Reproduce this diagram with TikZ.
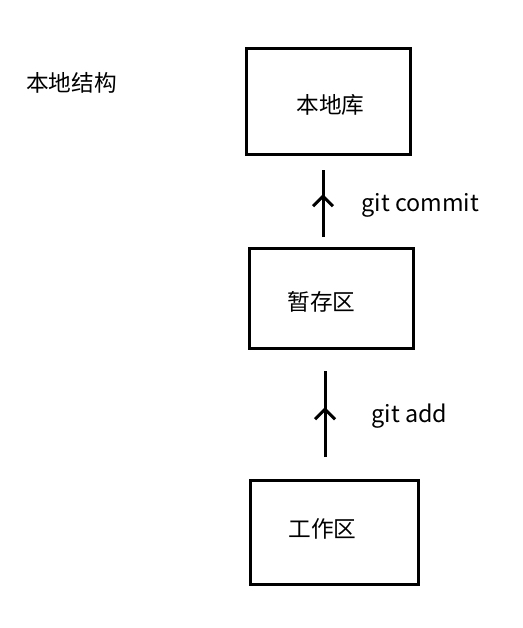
\documentclass[tikz,border=0pt]{standalone}
\usepackage{fontspec}
\newfontfamily\cjk{Noto Sans CJK SC}
\usetikzlibrary{arrows.meta,decorations.markings}

\tikzset{every picture/.style={line width=0.75pt}}
\tikzset{
  stagebox/.style={draw, line width=2.25pt, inner sep=0pt, minimum width=121.5pt, minimum height=79.5pt},
  cjktext/.style={inner sep=0.75pt, font=\cjk\fontsize{17}{20}\selectfont},
  cmdtext/.style={inner sep=0.75pt, anchor=west, font=\cjk\fontsize{17.5}{20}\selectfont},
  uparrow/.style={line width=2.25pt, postaction={decorate}, decoration={markings,
    mark=at position #1 with {\arrow[line width=2.25pt]{Straight Barb[length=7.5pt,width=15pt]}}}}
}

\begin{document}
\begin{tikzpicture}[x=0.75pt,y=0.75pt,yscale=-1,xscale=1]
\path [use as bounding box] (0,0) rectangle (523,628);

%Shape: Rectangle [id:repo]
\node [stagebox, minimum width=123pt, minimum height=79.5pt] (repo) at (328.5,101.5) {};
%Shape: Rectangle [id:stage]
\node [stagebox, minimum width=123pt, minimum height=75pt] (stage) at (331,298.5) {};
%Shape: Rectangle [id:work]
\node [stagebox, minimum width=126pt, minimum height=78pt] (work) at (334.5,532.5) {};

%Straight Lines [id:commit]
\coordinate (commitfrom) at (323,237);
\coordinate (committo) at (323,170);
\draw [uparrow=0.64] (commitfrom) -- (committo) ;
%Straight Lines [id:add]
\coordinate (addfrom) at (325,457);
\coordinate (addto) at (325,371);
\draw [uparrow=0.58] (addfrom) -- (addto) ;

% Text Node
\node [cjktext] (title) at (71.5,83) {本地结构};
% Text Node
\node [cjktext] (repotext) at (330.5,105) {本地库};
% Text Node
\node [cjktext] (stagetext) at (321.5,302) {暂存区};
% Text Node
\node [cjktext] (worktext) at (322.5,529) {工作区};
% Text Node
\node [cmdtext] (committext) at (360,205) {git commit};
% Text Node
\node [cmdtext] (addtext) at (370,416) {git add};

\end{tikzpicture}
\end{document}
